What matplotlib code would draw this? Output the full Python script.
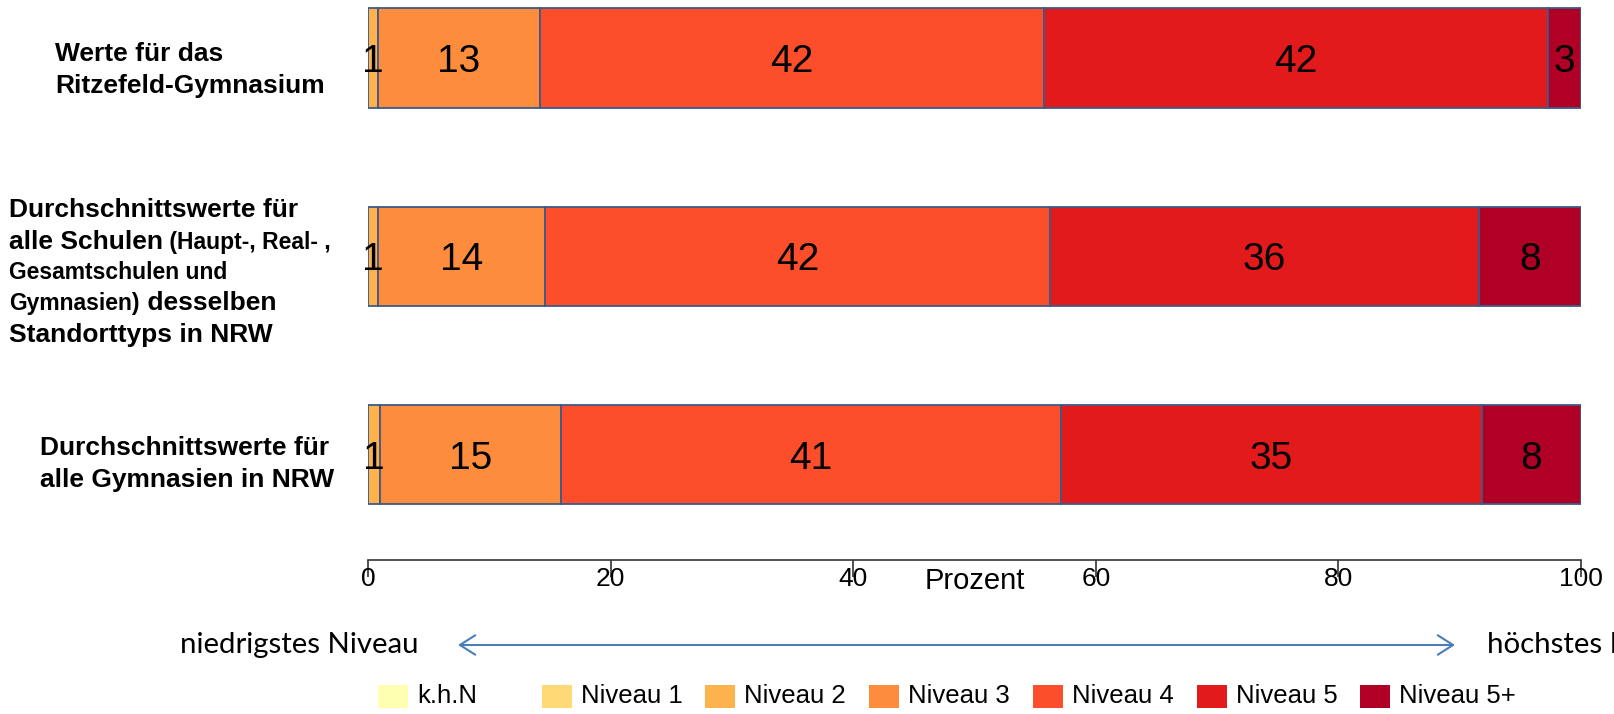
import numpy as np
import matplotlib
matplotlib.use('Agg')
import matplotlib.pyplot as plt
from matplotlib.patches import Rectangle

plt.rcParams['font.family'] = ['Liberation Sans', 'DejaVu Sans']

# Daten (Prozentanteile je Kompetenzniveau)
kategorien = ['k.h.N', 'Niveau 1', 'Niveau 2', 'Niveau 3', 'Niveau 4', 'Niveau 5', 'Niveau 5+']
farben = ['#FFFFB2', '#FED976', '#FEB24C', '#FD8D3C', '#FC4E2A', '#E31A1C', '#B10026']

ritzefeld = [0, 0, 0.8, 13.4, 41.5, 41.6, 2.7]
standorttyp = [0, 0, 0.8, 13.8, 41.6, 35.4, 8.4]
gymnasien_nrw = [0, 0, 1.0, 14.9, 41.2, 34.7, 8.2]

# gedruckte Zahlen in den Balken
beschriftung_ritzefeld = [None, None, 1, 13, 42, 42, 3]
beschriftung_standorttyp = [None, None, 1, 14, 42, 36, 8]
beschriftung_gymnasien = [None, None, 1, 15, 41, 35, 8]

werte = np.array([ritzefeld, standorttyp, gymnasien_nrw])
beschriftungen = [beschriftung_ritzefeld, beschriftung_standorttyp, beschriftung_gymnasien]
ticks = [0, 20, 40, 60, 80, 100]

W, H = 1614, 714
fig = plt.figure(figsize=(W / 100, H / 100), dpi=100)
ax = fig.add_axes([368 / W, 1 - 560 / H, (1581 - 368) / W, 560 / H])

links = np.zeros(len(werte))
for j, kat in enumerate(kategorien):
    ax.barh(np.arange(len(werte)), werte[:, j], left=links, height=0.5,
            color=farben[j], edgecolor='#3C5A8A', linewidth=1.3)
    for i in range(len(werte)):
        lab = beschriftungen[i][j]
        if lab is not None:
            # Grundlinie so setzen, dass die Ziffern mittig im Balken stehen
            ax.annotate(str(lab), xy=(links[i] + werte[i, j] / 2, i), xytext=(0, -10),
                        textcoords='offset points', ha='center', va='baseline',
                        fontsize=28, color='black')
    links += werte[:, j]

ax.set_xlim(0, 100)
ax.set_ylim(2.53, -0.292)
ax.set_yticks([])
for s in ['left', 'right', 'top']:
    ax.spines[s].set_visible(False)
ax.spines['bottom'].set_bounds(0, 100)
ax.spines['bottom'].set_color('#333333')
ax.spines['bottom'].set_linewidth(1.2)
ax.set_xticks(ticks)
ax.set_xticklabels([str(t) for t in ticks], fontsize=19)
ax.tick_params(axis='x', length=12, width=1.2, color='#333333', pad=-7)
ax.annotate('Prozent', xy=(50, 0), xycoords=('data', 'axes fraction'), xytext=(0, -5),
            textcoords='offset points', ha='center', va='top', fontsize=21,
            annotation_clip=False)


# Beschriftung links, teilweise mit verschiedenen Schriftgrößen
def zeile(x, y, teile):
    t = fig.text(x / W, 1 - y / H, teile[0][0], fontsize=teile[0][1],
                 fontweight='bold', va='baseline', ha='left')
    for text, size in teile[1:]:
        t = ax.annotate(text, xy=(1, 0), xycoords=t, va='bottom', ha='left',
                        fontsize=size, fontweight='bold', annotation_clip=False)


gross, klein = 19, 16.5
zeile(55, 61, [('Werte für das', gross)])
zeile(55, 93, [('Ritzefeld-Gymnasium', gross)])

zeile(9, 217, [('Durchschnittswerte für', gross)])
zeile(9, 249, [('alle Schulen', gross), (' (Haupt-, Real- ,', klein)])
zeile(9, 279, [('Gesamtschulen und', klein)])
zeile(9, 310, [('Gymnasien)', klein), (' desselben', gross)])
zeile(9, 342, [('Standorttyps in NRW', gross)])

zeile(40, 455, [('Durchschnittswerte für', gross)])
zeile(40, 487, [('alle Gymnasien in NRW', gross)])

# Pfeil niedrigstes / höchstes Niveau
fig.text(180 / W, 1 - 645 / H, 'niedrigstes Niveau', fontfamily=['Lato', 'DejaVu Sans'],
         fontsize=21.2, va='center', ha='left')
fig.text(1487 / W, 1 - 645 / H, 'höchstes Niveau', fontfamily=['Lato', 'DejaVu Sans'],
         fontsize=21.2, va='center', ha='left')
ax.annotate('', xy=(1455, H - 645), xycoords='figure pixels',
            xytext=(458, H - 645), textcoords='figure pixels',
            arrowprops=dict(arrowstyle='<->, head_length=0.55, head_width=0.35',
                            mutation_scale=20, color='#4A7EBB', lw=1.5,
                            shrinkA=0, shrinkB=0),
            annotation_clip=False)

# Legende
for j, kat in enumerate(kategorien):
    x0 = 378 + j * 163.7
    fig.patches.append(Rectangle((x0 / W, 1 - 708 / H), 30 / W, 23 / H,
                                 transform=fig.transFigure, facecolor=farben[j],
                                 edgecolor='none'))
    fig.text((x0 + 39) / W, 1 - 696 / H, kat, fontsize=18.5, va='center', ha='left')

fig.savefig('out.png', dpi=100)
